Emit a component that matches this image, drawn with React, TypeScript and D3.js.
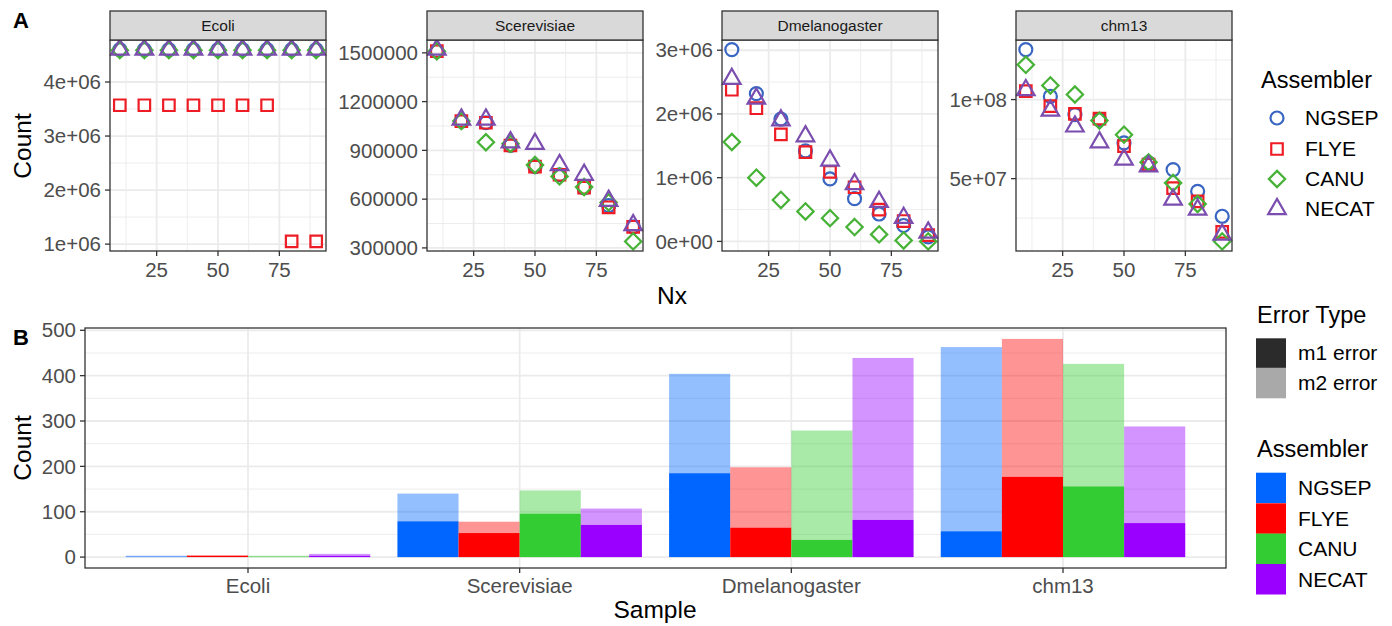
import React from "react";
import * as d3 from "d3";

// ---- data ----
const assemblers = ["NGSEP", "FLYE", "CANU", "NECAT"];
const samples = ["Ecoli", "Scerevisiae", "Dmelanogaster", "chm13"];
const nxLevels = [10, 20, 30, 40, 50, 60, 70, 80, 90];

// Nx values per assembler (NGSEP, FLYE, CANU, NECAT)
const ecoliNx = [
  [4.6e6, 4.6e6, 4.6e6, 4.6e6, 4.6e6, 4.6e6, 4.6e6, 4.6e6, 4.6e6],
  [3.57e6, 3.57e6, 3.57e6, 3.57e6, 3.57e6, 3.57e6, 3.57e6, 1.05e6, 1.05e6],
  [4.59e6, 4.59e6, 4.59e6, 4.59e6, 4.59e6, 4.59e6, 4.59e6, 4.59e6, 4.59e6],
  [4.6e6, 4.6e6, 4.6e6, 4.6e6, 4.6e6, 4.6e6, 4.6e6, 4.6e6, 4.6e6],
];
const scerevisiaeNx = [
  [1.51e6, 1.08e6, 1.07e6, 0.93e6, 0.8e6, 0.75e6, 0.67e6, 0.56e6, 0.43e6],
  [1.51e6, 1.08e6, 1.07e6, 0.93e6, 0.8e6, 0.75e6, 0.67e6, 0.55e6, 0.43e6],
  [1.51e6, 1.08e6, 0.95e6, 0.94e6, 0.81e6, 0.74e6, 0.675e6, 0.58e6, 0.34e6],
  [1.52e6, 1.09e6, 1.09e6, 0.95e6, 0.94e6, 0.81e6, 0.75e6, 0.59e6, 0.44e6],
];
const dmelanogasterNx = [
  [3.01e6, 2.32e6, 1.92e6, 1.42e6, 0.98e6, 0.67e6, 0.43e6, 0.25e6, 0.07e6],
  [2.38e6, 2.09e6, 1.68e6, 1.4e6, 1.09e6, 0.85e6, 0.5e6, 0.32e6, 0.1e6],
  [1.56e6, 1.0e6, 0.65e6, 0.47e6, 0.365e6, 0.225e6, 0.11e6, 0.015e6, 0.0],
  [2.55e6, 2.24e6, 1.9e6, 1.65e6, 1.27e6, 0.9e6, 0.62e6, 0.37e6, 0.14e6],
];
const chm13Nx = [
  [131.6e6, 102e6, 90.5e6, 87.3e6, 72.6e6, 60e6, 55.7e6, 42e6, 26.2e6],
  [105.3e6, 95.8e6, 91e6, 88e6, 70.5e6, 58.9e6, 44e6, 35.6e6, 16.3e6],
  [122e6, 108.9e6, 103.2e6, 86.7e6, 77.8e6, 60.3e6, 47.3e6, 34e6, 10.3e6],
  [106e6, 93e6, 83e6, 73e6, 62e6, 57.8e6, 36.7e6, 30.4e6, 14.6e6],
];
const facetData = [ecoliNx, scerevisiaeNx, dmelanogasterNx, chm13Nx];

const facetTicks = [
  [1e6, 2e6, 3e6, 4e6],
  [300000, 600000, 900000, 1200000, 1500000],
  [0, 1e6, 2e6, 3e6],
  [5e7, 1e8],
];
const facetTickLabels = [
  ["1e+06", "2e+06", "3e+06", "4e+06"],
  ["300000", "600000", "900000", "1200000", "1500000"],
  ["0e+00", "1e+06", "2e+06", "3e+06"],
  ["5e+07", "1e+08"],
];
const facetMinor = [
  [1.5e6, 2.5e6, 3.5e6, 4.5e6],
  [450000, 750000, 1050000, 1350000],
  [0.5e6, 1.5e6, 2.5e6],
  [2.5e7, 7.5e7, 1.25e8],
];
const nxTicks = [25, 50, 75];
const nxMinor = [12.5, 37.5, 62.5, 87.5];

// error counts per sample, per assembler
const m1Errors = [
  [1, 3, 1, 3],
  [79, 53, 96, 71],
  [185, 65, 38, 82],
  [57, 177, 156, 75],
];
const m2Errors = [
  [2, 1, 2, 4],
  [61, 25, 51, 36],
  [219, 133, 241, 357],
  [406, 304, 270, 213],
];
const countTicks = [0, 100, 200, 300, 400, 500];
const countMinor = [50, 150, 250, 350, 450];

// ---- style ----
const pointColors = ["#3A66C3", "#EE1D25", "#46B236", "#7A4DAE"];
const barColors = ["#0066FF", "#FF0000", "#33CC33", "#9900FF"];
const FONT = "'Liberation Sans', Arial, Helvetica, sans-serif";
const GRID = "#EBEBEB";
const DARK = "#333333";
const TICKTXT = "#4D4D4D";

const XC = 6.5;
function shapePath(i: number, cx: number, cy: number) {
  if (i === 0) {
    return d3.symbol(d3.symbolCircle, Math.PI * XC * XC)();
  }
  const p = d3.path();
  if (i === 1) {
    const h = XC * 0.886;
    p.rect(-h, -h, 2 * h, 2 * h);
  } else if (i === 2) {
    const h = XC * 1.253;
    p.moveTo(0, -h);
    p.lineTo(h, 0);
    p.lineTo(0, h);
    p.lineTo(-h, 0);
    p.closePath();
  } else {
    const r = XC * 1.555;
    const xc = r * 0.866;
    p.moveTo(0, -r);
    p.lineTo(xc, r / 2);
    p.lineTo(-xc, r / 2);
    p.closePath();
  }
  return p.toString();
}

function Marker({ i, x, y }: { i: number; x: number; y: number }) {
  return (
    <path
      d={shapePath(i, 0, 0) as string}
      transform={`translate(${x},${y})`}
      fill="none"
      stroke={pointColors[i]}
      strokeWidth={2.2}
    />
  );
}

const facetLeft = [110, 427, 722, 1016];
const facetW = 216;
const stripTop = 11;
const panelTop = 40;
const panelBottom = 251;

function Facet({ k }: { k: number }) {
  const left = facetLeft[k];
  const right = left + facetW;
  const series = facetData[k];
  const all = series.flat();
  const [lo, hi] = d3.extent(all) as [number, number];
  const pad = (hi - lo) * 0.05;
  const y = d3.scaleLinear().domain([lo - pad, hi + pad]).range([panelBottom, panelTop]);
  const x = d3.scaleLinear().domain([6, 94]).range([left, right]);
  return (
    <g>
      <rect x={left} y={panelTop} width={facetW} height={panelBottom - panelTop} fill="white" />
      {facetMinor[k].map((t) => (
        <line key={"ym" + t} x1={left} x2={right} y1={y(t)} y2={y(t)} stroke={GRID} strokeWidth={0.9} />
      ))}
      {nxMinor.map((t) => (
        <line key={"xm" + t} x1={x(t)} x2={x(t)} y1={panelTop} y2={panelBottom} stroke={GRID} strokeWidth={0.9} />
      ))}
      {facetTicks[k].map((t) => (
        <line key={"y" + t} x1={left} x2={right} y1={y(t)} y2={y(t)} stroke={GRID} strokeWidth={1.8} />
      ))}
      {nxTicks.map((t) => (
        <line key={"x" + t} x1={x(t)} x2={x(t)} y1={panelTop} y2={panelBottom} stroke={GRID} strokeWidth={1.8} />
      ))}
      {series.map((vals, i) =>
        vals.map((v, j) => <Marker key={i + "-" + j} i={i} x={x(nxLevels[j])} y={y(v)} />)
      )}
      <rect x={left} y={panelTop} width={facetW} height={panelBottom - panelTop} fill="none" stroke={DARK} strokeWidth={1.3} />
      <rect x={left} y={stripTop} width={facetW} height={panelTop - stripTop} fill="#D9D9D9" stroke={DARK} strokeWidth={1.3} />
      <text x={(left + right) / 2} y={(stripTop + panelTop) / 2} dy="0.35em" textAnchor="middle" fontSize={15.5} fill="#1A1A1A">
        {samples[k]}
      </text>
      {facetTicks[k].map((t, i) => (
        <g key={"yt" + t}>
          <line x1={left - 5} x2={left} y1={y(t)} y2={y(t)} stroke={DARK} strokeWidth={1.3} />
          <text x={left - 9} y={y(t)} dy="0.35em" textAnchor="end" fontSize={20.5} fill={TICKTXT}>
            {facetTickLabels[k][i]}
          </text>
        </g>
      ))}
      {nxTicks.map((t) => (
        <g key={"xt" + t}>
          <line x1={x(t)} x2={x(t)} y1={panelBottom} y2={panelBottom + 5} stroke={DARK} strokeWidth={1.3} />
          <text x={x(t)} y={277} textAnchor="middle" fontSize={20.5} fill={TICKTXT}>
            {t}
          </text>
        </g>
      ))}
    </g>
  );
}

const bLeft = 85;
const bRight = 1226;
const bTop = 328;
const bBottom = 568;

function BarPanel() {
  const maxTotal = d3.max(m1Errors.map((r, s) => d3.max(r.map((v, a) => v + m2Errors[s][a])) as number)) as number;
  const y = d3.scaleLinear().domain([-maxTotal * 0.05, maxTotal * 1.05]).range([bBottom, bTop]);
  const x0 = d3.scaleBand().domain(samples).range([bLeft, bRight]).paddingInner(0.1).paddingOuter(0.15);
  const x1 = d3.scaleBand().domain(assemblers).range([0, x0.bandwidth()]);
  return (
    <g>
      {countMinor.map((t) => (
        <line key={"m" + t} x1={bLeft} x2={bRight} y1={y(t)} y2={y(t)} stroke={GRID} strokeWidth={0.9} />
      ))}
      {countTicks.map((t) => (
        <line key={"g" + t} x1={bLeft} x2={bRight} y1={y(t)} y2={y(t)} stroke={GRID} strokeWidth={1.8} />
      ))}
      {samples.map((s) => {
        const cx = (x0(s) as number) + x0.bandwidth() / 2;
        return <line key={"v" + s} x1={cx} x2={cx} y1={bTop} y2={bBottom} stroke={GRID} strokeWidth={1.8} />;
      })}
      {samples.map((s, si) =>
        assemblers.map((a, ai) => {
          const bx = (x0(s) as number) + (x1(a) as number);
          const m1 = m1Errors[si][ai];
          const tot = m1 + m2Errors[si][ai];
          return (
            <g key={s + a}>
              <rect x={bx} width={x1.bandwidth()} y={y(tot)} height={y(m1) - y(tot)} fill={barColors[ai]} fillOpacity={0.42} />
              <rect x={bx} width={x1.bandwidth()} y={y(m1)} height={y(0) - y(m1)} fill={barColors[ai]} />
            </g>
          );
        })
      )}
      <rect x={bLeft} y={bTop} width={bRight - bLeft} height={bBottom - bTop} fill="none" stroke={DARK} strokeWidth={1.3} />
      {countTicks.map((t) => (
        <g key={"t" + t}>
          <line x1={bLeft - 5} x2={bLeft} y1={y(t)} y2={y(t)} stroke={DARK} strokeWidth={1.3} />
          <text x={bLeft - 9} y={y(t)} dy="0.35em" textAnchor="end" fontSize={20.5} fill={TICKTXT}>
            {t}
          </text>
        </g>
      ))}
      {samples.map((s) => {
        const cx = (x0(s) as number) + x0.bandwidth() / 2;
        return (
          <g key={"xl" + s}>
            <line x1={cx} x2={cx} y1={bBottom} y2={bBottom + 5} stroke={DARK} strokeWidth={1.3} />
            <text x={cx} y={593} textAnchor="middle" fontSize={20.5} fill={TICKTXT}>
              {s}
            </text>
          </g>
        );
      })}
    </g>
  );
}

export default function App() {
  const legA = [118, 149, 179, 209];
  const legB = [472.7, 503.3, 533.6, 564];
  return (
    <svg
      width={1392}
      height={626}
      style={{ position: "absolute", left: 0, top: 0, background: "white" }}
      fontFamily={FONT}
    >
      <rect width={1392} height={626} fill="white" />
      <text x={13} y={28} fontSize={22} fontWeight="bold">A</text>
      {samples.map((s, k) => (
        <Facet key={s} k={k} />
      ))}
      <text transform="translate(31,146) rotate(-90)" textAnchor="middle" fontSize={24.5}>Count</text>
      <text x={672} y={304} textAnchor="middle" fontSize={24.5}>Nx</text>

      <text x={1261} y={88} fontSize={23.5}>Assembler</text>
      {assemblers.map((a, i) => (
        <g key={"la" + a}>
          <Marker i={i} x={1277} y={legA[i]} />
          <text x={1305} y={legA[i]} dy="0.35em" fontSize={21}>{a}</text>
        </g>
      ))}

      <text x={13} y={345} fontSize={22} fontWeight="bold">B</text>
      <BarPanel />
      <text transform="translate(31,448) rotate(-90)" textAnchor="middle" fontSize={24.5}>Count</text>
      <text x={655} y={618} textAnchor="middle" fontSize={24.5}>Sample</text>

      <text x={1257} y={323} fontSize={23.5}>Error Type</text>
      <rect x={1256} y={338.3} width={30} height={29.6} fill="#2B2B2B" />
      <rect x={1256} y={367.9} width={30} height={30.4} fill="#A9A9A9" />
      <text x={1298} y={353} dy="0.35em" fontSize={21}>m1 error</text>
      <text x={1298} y={383} dy="0.35em" fontSize={21}>m2 error</text>

      <text x={1257} y={457} fontSize={23.5}>Assembler</text>
      {assemblers.map((a, i) => (
        <g key={"lb" + a}>
          <rect x={1256} y={legB[i]} width={30} height={30.5} fill={barColors[i]} />
          <text x={1298} y={legB[i] + 15.25} dy="0.35em" fontSize={21}>{a}</text>
        </g>
      ))}
    </svg>
  );
}
